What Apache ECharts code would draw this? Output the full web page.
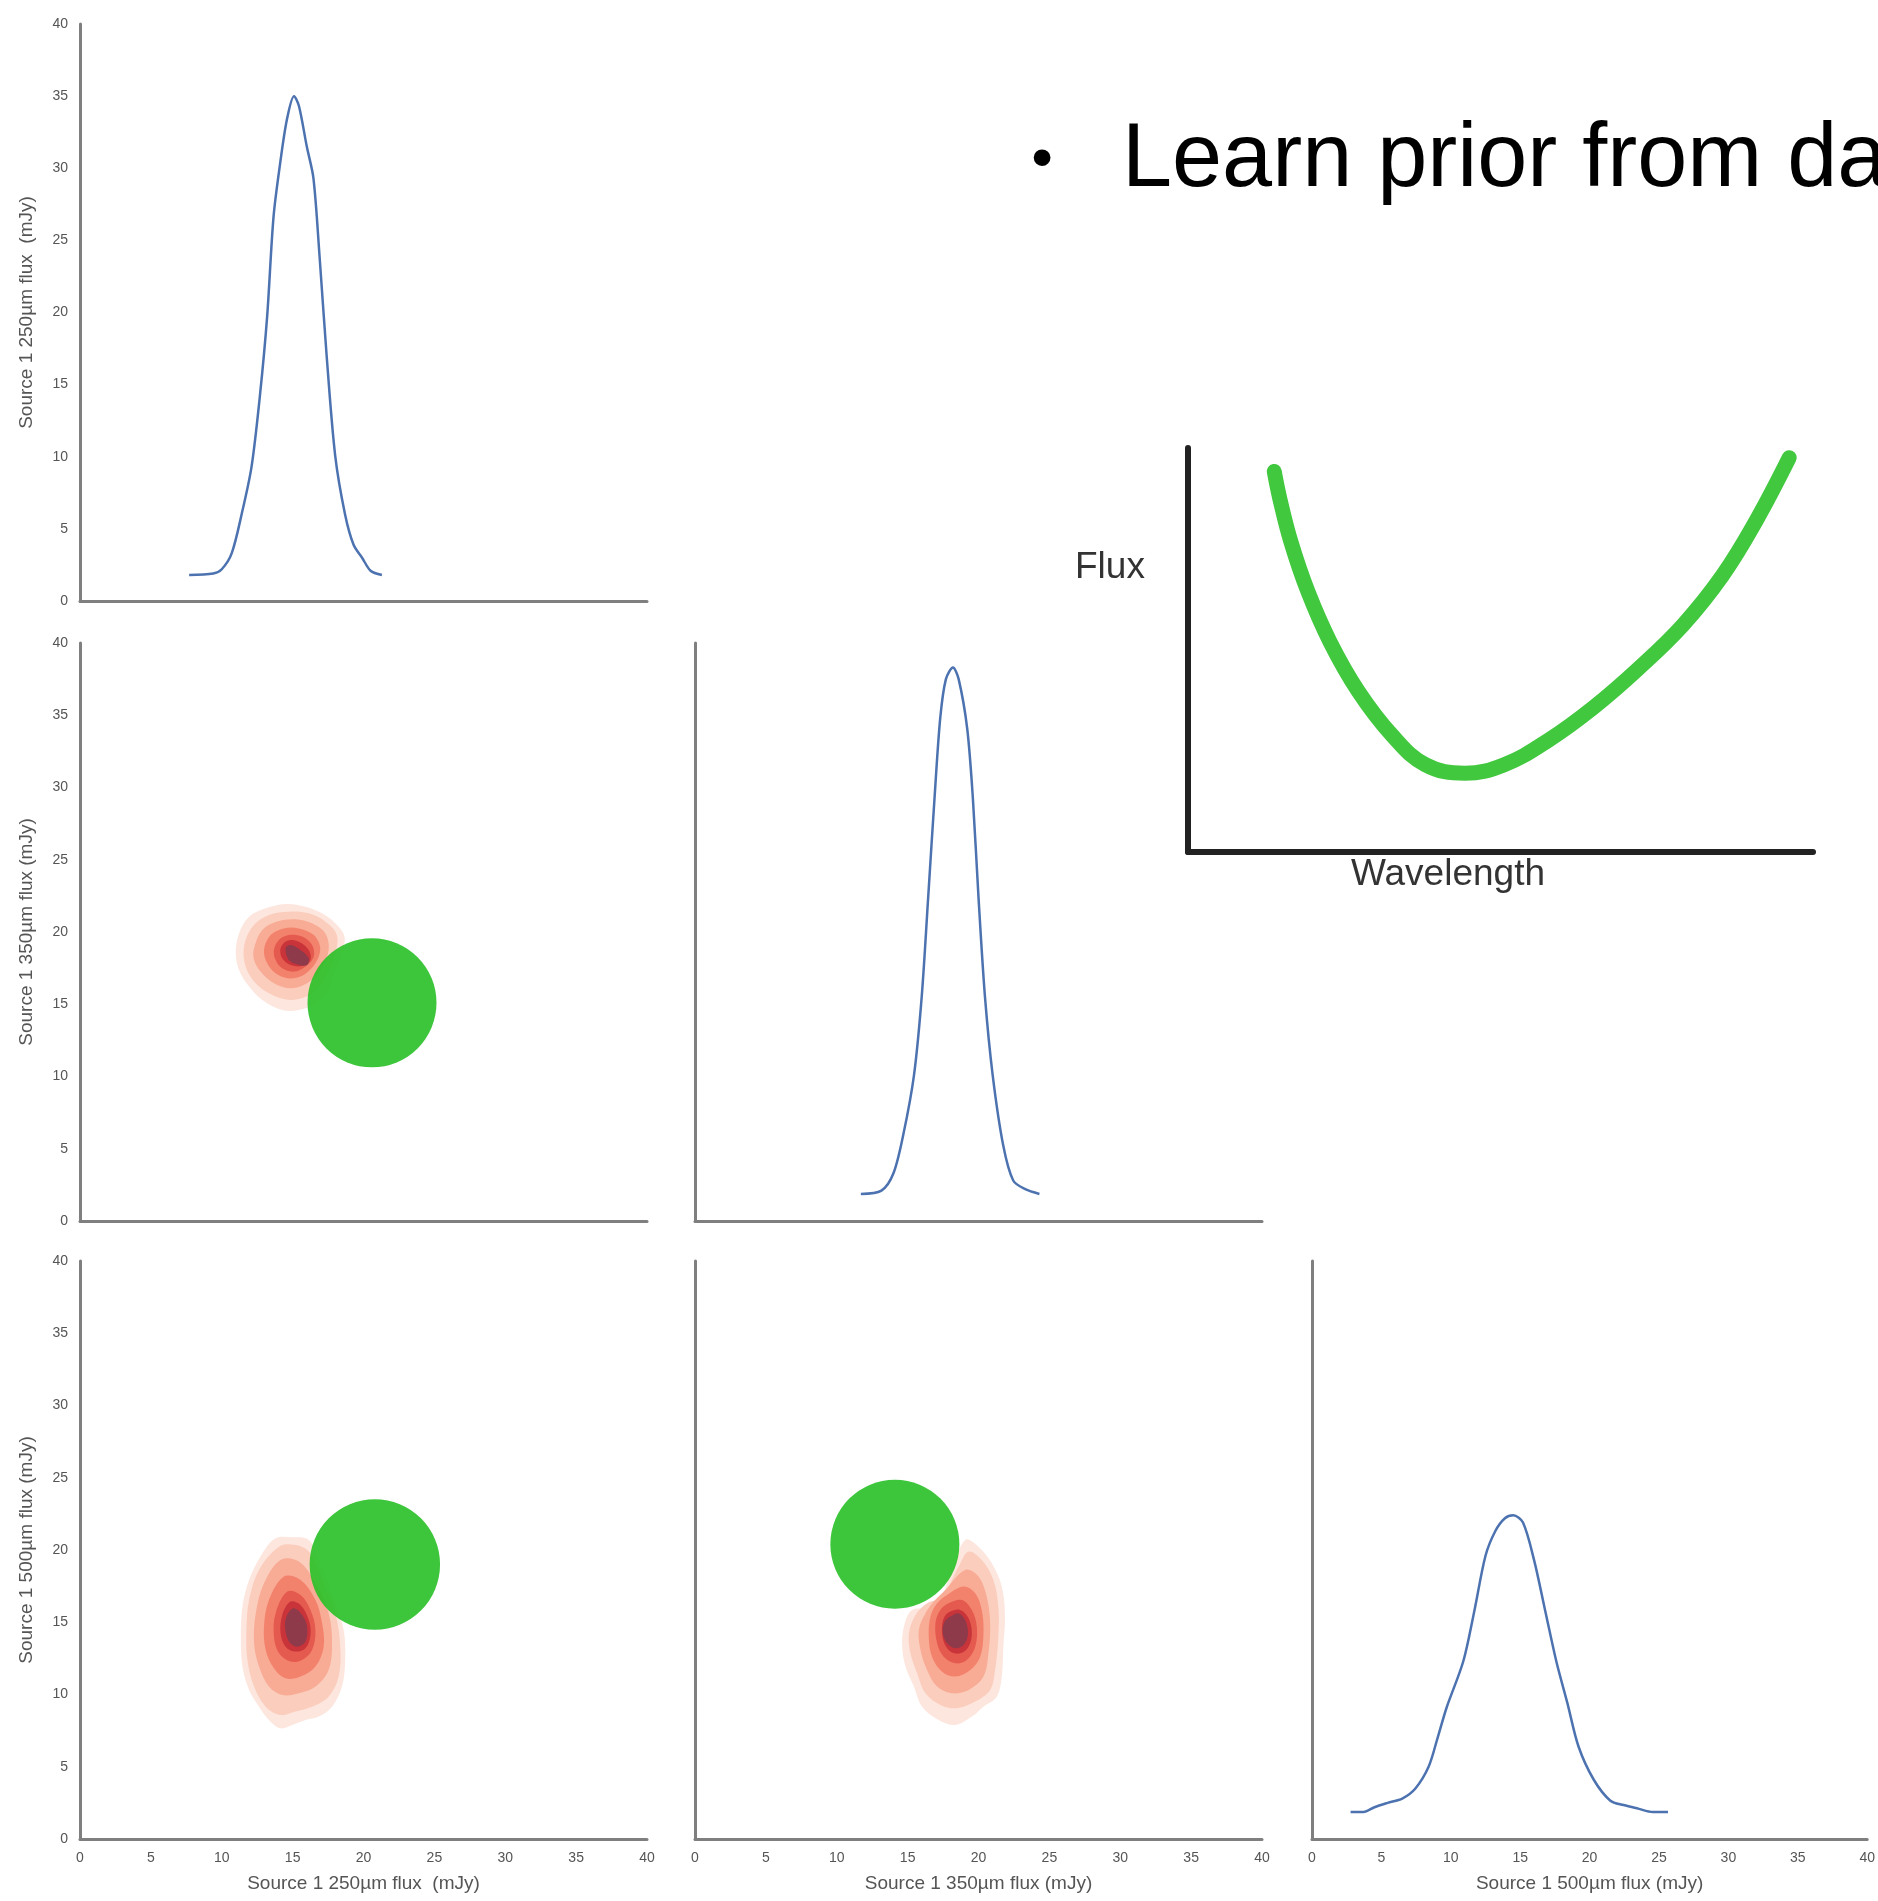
<!DOCTYPE html>
<html style="height: 100%">
<head>
<meta charset="utf-8">
</head>
<body style="height: 100%; margin: 0; background: #fff">
<div id="container" style="width: 1878px; height: 1901px;"></div>
<script type="text/javascript" src="https://cdn.jsdelivr.net/npm/echarts@6/dist/echarts.min.js"></script>
<script type="text/javascript">
var dom = document.getElementById("container");
var myChart = echarts.init(dom);

// axis range shared by every panel
var fluxMin = 0, fluxMax = 40, fluxStep = 5;

var name250x = 'Source 1 250µm flux  (mJy)';
var name250y = 'Source 1 250µm flux  (mJy)';
var name350 = 'Source 1 350µm flux (mJy)';
var name500 = 'Source 1 500µm flux (mJy)';

// 1D marginals (diagonal)
var kde250 = [[7.7,1.8],[9.4,1.9],[10.0,2.2],[10.7,3.3],[11.4,6.0],[12.1,9.3],[12.7,14.3],[13.2,19.7],[13.65,26.6],[14.1,30.2],[14.6,33.4],[15.1,35.0],[15.45,34.3],[16.0,31.5],[16.47,29.3],[16.9,23.9],[17.4,17.0],[18.0,10.1],[18.7,6.0],[19.3,3.9],[19.9,3.0],[20.5,2.1],[21.3,1.8]];
var kde350 = [[11.7,1.87],[13.15,2.1],[14.0,3.3],[14.7,6.0],[15.45,10.1],[16.0,15.6],[16.45,22.4],[16.9,29.3],[17.3,34.8],[17.7,37.5],[18.2,38.3],[18.6,37.5],[19.2,34.1],[19.6,29.3],[20.0,22.4],[20.45,15.6],[21.0,10.1],[21.75,5.2],[22.45,2.8],[23.3,2.2],[24.3,1.87]];
var kde500 = [[2.78,1.87],[3.71,1.87],[4.5,2.2],[5.45,2.5],[6.5,2.8],[7.45,3.5],[8.4,5.0],[9.05,7.0],[9.7,9.1],[10.9,12.3],[11.7,15.8],[12.5,19.6],[13.2,21.3],[13.9,22.2],[14.5,22.4],[15.2,21.9],[16.0,19.3],[16.8,15.8],[17.6,12.3],[18.4,9.4],[19.2,6.4],[20.3,4.1],[21.5,2.65],[22.45,2.35],[23.5,2.1],[24.55,1.87],[25.65,1.87]];

// 2D density contours, outermost first
var levelColors = ['#fde6de','#fbcdbd','#f8ab95','#f3826d','#e55a4e','#c8343a','#8e3a4a'];

var dens250_350 = [
  [[11.22,19.91],[11.93,21.06],[13.10,21.64],[14.50,21.94],[15.90,21.75],[17.07,21.29],[18.01,20.60],[18.66,19.68],[18.47,18.52],[18.01,17.37],[17.54,15.99],[16.60,15.06],[15.43,14.60],[14.26,14.60],[12.86,15.29],[11.93,16.22],[11.22,17.37],[10.99,18.52]],
  [[11.57,18.99],[12.16,20.37],[13.33,21.18],[14.73,21.41],[16.14,21.29],[17.30,20.72],[18.12,19.79],[18.01,18.52],[17.30,16.91],[16.37,15.76],[14.97,15.30],[13.56,15.64],[12.39,16.45],[11.69,17.60]],
  [[12.28,18.87],[12.86,20.14],[13.91,20.72],[15.20,20.88],[16.37,20.60],[17.30,19.91],[17.54,18.76],[16.95,17.37],[16.02,16.45],[14.85,16.10],[13.68,16.45],[12.74,17.26],[12.28,18.06]],
  [[12.98,18.76],[13.45,19.79],[14.38,20.25],[15.43,20.25],[16.49,19.79],[16.95,18.87],[16.60,17.83],[15.78,17.03],[14.73,16.79],[13.80,17.14],[13.21,17.83]],
  [[13.68,18.76],[14.03,19.45],[14.73,19.79],[15.67,19.68],[16.37,19.10],[16.49,18.29],[15.90,17.60],[15.08,17.26],[14.26,17.49],[13.80,18.06]],
  [[14.15,18.87],[14.62,19.40],[15.43,19.33],[16.14,18.76],[16.25,18.06],[15.67,17.65],[14.85,17.72],[14.26,18.18]],
  [[14.50,18.87],[14.85,19.10],[15.55,18.76],[16.14,18.18],[16.02,17.72],[15.43,17.72],[14.73,18.06]]
];

var dens250_500 = [
  [[13.80,20.81],[14.97,20.88],[16.14,20.70],[16.84,19.31],[18.01,16.31],[18.60,14.47],[18.71,12.39],[18.48,10.55],[17.78,9.16],[16.84,8.47],[15.91,8.24],[14.97,7.89],[14.15,7.66],[13.33,8.24],[12.63,9.16],[11.93,10.31],[11.46,11.93],[11.35,14.01],[11.46,16.08],[11.93,17.93],[12.87,19.77]],
  [[14.04,20.23],[15.20,20.35],[16.14,19.89],[17.08,17.93],[18.01,15.62],[18.36,13.31],[18.25,11.24],[17.54,9.85],[16.37,9.16],[15.20,8.82],[14.15,8.58],[13.10,9.16],[12.28,10.55],[11.81,12.39],[11.74,14.47],[11.93,16.54],[12.63,18.62]],
  [[14.15,19.31],[15.44,19.20],[16.61,17.70],[17.54,15.62],[17.78,13.54],[17.54,11.70],[16.61,10.55],[15.44,10.08],[14.27,9.97],[13.33,10.55],[12.63,11.93],[12.28,13.54],[12.40,15.62],[12.98,17.70]],
  [[14.39,18.16],[15.56,17.93],[16.61,16.54],[17.08,14.93],[17.19,13.31],[16.61,11.93],[15.56,11.24],[14.50,11.12],[13.68,11.81],[13.10,13.08],[12.98,14.70],[13.33,16.54]],
  [[14.62,17.12],[15.56,16.89],[16.26,15.85],[16.61,14.47],[16.37,13.08],[15.67,12.39],[14.85,12.28],[14.04,12.85],[13.68,14.01],[13.80,15.62]],
  [[14.85,16.43],[15.56,16.20],[16.14,15.16],[16.26,14.12],[15.91,13.20],[15.20,12.97],[14.50,13.31],[14.15,14.24],[14.27,15.51]],
  [[15.09,15.97],[15.67,15.51],[16.02,14.70],[15.91,13.66],[15.32,13.31],[14.74,13.66],[14.46,14.70],[14.62,15.51]]
];

var dens350_500 = [
  [[16.96,16.08],[18.13,18.62],[19.06,20.70],[20.00,20.23],[20.94,19.08],[21.64,17.47],[21.87,15.39],[21.75,13.31],[21.64,11.24],[21.29,9.85],[20.35,9.16],[19.53,8.47],[18.36,7.89],[17.19,8.24],[16.02,9.16],[15.44,10.55],[14.85,11.93],[14.62,13.31],[14.74,14.70],[15.32,15.85]],
  [[17.43,16.77],[18.60,18.85],[19.30,19.89],[20.23,19.31],[21.05,17.93],[21.40,16.08],[21.40,14.01],[21.17,11.70],[20.82,10.31],[19.77,9.51],[18.48,9.05],[17.31,9.28],[16.26,10.08],[15.67,11.47],[15.20,12.85],[15.09,14.24],[15.56,15.51],[16.37,16.31]],
  [[17.66,17.24],[19.06,18.62],[20.00,18.16],[20.58,16.77],[20.82,14.93],[20.70,12.85],[20.35,11.24],[19.30,10.31],[18.13,10.08],[17.08,10.55],[16.37,11.70],[15.91,13.08],[15.79,14.47],[16.26,15.62],[16.84,16.43]],
  [[17.78,16.89],[18.95,17.47],[19.77,17.00],[20.23,15.85],[20.35,14.24],[20.12,12.62],[19.42,11.70],[18.36,11.24],[17.43,11.58],[16.72,12.62],[16.49,14.01],[16.61,15.39],[17.08,16.31]],
  [[17.89,16.31],[18.83,16.54],[19.53,15.85],[19.88,14.70],[19.77,13.31],[19.18,12.39],[18.36,12.16],[17.54,12.62],[17.08,13.54],[16.96,14.93],[17.31,15.85]],
  [[18.01,15.74],[18.71,15.85],[19.30,15.27],[19.53,14.24],[19.30,13.31],[18.71,12.85],[18.01,12.97],[17.54,13.66],[17.43,14.70],[17.61,15.39]],
  [[18.01,15.39],[18.60,15.62],[19.11,15.04],[19.25,14.12],[18.95,13.43],[18.36,13.20],[17.78,13.54],[17.47,14.35],[17.61,15.04]]
];

// prior discs: [x, y, radius]
var prior250_350 = [20.6, 15.1, 4.55];
var prior250_500 = [20.8, 19.0, 4.6];
var prior350_500 = [14.1, 20.4, 4.55];

// sketch of an SED prior (arbitrary units 0-100)
var sedCurve = [[13.8,94.2],[14.7,87.4],[16.5,76.6],[19.2,64.4],[22.7,52.1],[27.2,39.9],[32.6,29.0],[38.0,21.6],[44.3,19.5],[50.6,21.6],[57.7,27.7],[64.9,35.8],[72.0,45.3],[79.2,56.2],[85.5,68.4],[90.9,82.0],[96.2,97.6]];

var labelStyle = {color: '#555', fontSize: 14, margin: 12, fontFamily: 'Liberation Sans'};
var nameStyle = {color: '#555', fontSize: 19, fontFamily: 'Liberation Sans'};

function fluxAxis(grid, showLabel, name, gap) {
    return {
        type: 'value', gridIndex: grid,
        min: fluxMin, max: fluxMax, interval: fluxStep,
        axisLine: {show: true, onZero: false, lineStyle: {color: '#7f7f7f', width: 3}},
        axisTick: {show: false},
        splitLine: {show: false},
        axisLabel: Object.assign({show: showLabel}, labelStyle),
        name: name || '', nameLocation: 'middle', nameGap: gap || 0,
        nameTextStyle: nameStyle
    };
}

function sketchAxis(grid) {
    return {
        type: 'value', gridIndex: grid, min: 0, max: 100,
        axisLine: {show: true, onZero: false, lineStyle: {color: '#222', width: 6, cap: 'round'}},
        axisTick: {show: false}, axisLabel: {show: false}, splitLine: {show: false}
    };
}

function kdeLine(idx, data) {
    return {
        type: 'line', xAxisIndex: idx, yAxisIndex: idx, data: data,
        showSymbol: false, smooth: 0.3, silent: true,
        lineStyle: {color: '#4c72b0', width: 2.5}
    };
}

function contours(idx, levels) {
    return {
        type: 'custom', xAxisIndex: idx, yAxisIndex: idx, silent: true,
        data: levels.map(function (pts, i) { return [pts[0][0], pts[0][1], i]; }),
        encode: {x: 0, y: 1},
        renderItem: function (params, api) {
            var i = api.value(2);
            var pts = levels[i].map(function (p) { return api.coord(p); });
            return {type: 'polygon', shape: {points: pts, smooth: 0.35}, style: {fill: levelColors[i]}};
        }
    };
}

function priorDisc(idx, disc) {
    return {
        type: 'custom', xAxisIndex: idx, yAxisIndex: idx, silent: true,
        data: [disc], encode: {x: 0, y: 1},
        renderItem: function (params, api) {
            var c = api.coord([api.value(0), api.value(1)]);
            var s = api.size([api.value(2), api.value(2)]);
            return {type: 'circle', shape: {cx: c[0], cy: c[1], r: s[0]}, style: {fill: 'rgba(40,192,38,0.9)'}};
        }
    };
}

var option = {
    backgroundColor: '#fff',
    animation: false,
    grid: [
        {left: 80, top: 24, width: 567, height: 577},
        {left: 80, top: 643, width: 567, height: 578},
        {left: 695, top: 643, width: 567, height: 578},
        {left: 80, top: 1261, width: 567, height: 578},
        {left: 695, top: 1261, width: 567, height: 578},
        {left: 1312, top: 1261, width: 568, height: 578},
        {left: 1188, top: 448, width: 625, height: 404}
    ],
    xAxis: [
        fluxAxis(0, false),
        fluxAxis(1, false),
        fluxAxis(2, false),
        fluxAxis(3, true, name250x, 35),
        fluxAxis(4, true, name350, 35),
        fluxAxis(5, true, name500, 35),
        sketchAxis(6)
    ],
    yAxis: [
        fluxAxis(0, true, name250y, 44),
        fluxAxis(1, true, name350, 44),
        fluxAxis(2, false),
        fluxAxis(3, true, name500, 44),
        fluxAxis(4, false),
        fluxAxis(5, false),
        sketchAxis(6)
    ],
    graphic: [
        {type: 'text', style: {x: 1042, y: 161, text: '•', font: '62px "Liberation Sans"', fill: '#000', textAlign: 'center', textVerticalAlign: 'middle'}},
        {type: 'text', style: {x: 1122, y: 161, text: 'Learn prior from data', font: '90px "Liberation Sans"', fill: '#000', textAlign: 'left', textVerticalAlign: 'middle'}},
        {type: 'text', style: {x: 1075, y: 568, text: 'Flux', font: '37px "Liberation Sans"', fill: '#333', textAlign: 'left', textVerticalAlign: 'middle'}},
        {type: 'text', style: {x: 1448, y: 875, text: 'Wavelength', font: '37px "Liberation Sans"', fill: '#333', textAlign: 'center', textVerticalAlign: 'middle'}}
    ],
    series: [
        kdeLine(0, kde250),
        kdeLine(2, kde350),
        kdeLine(5, kde500),
        contours(1, dens250_350),
        contours(3, dens250_500),
        contours(4, dens350_500),
        priorDisc(1, prior250_350),
        priorDisc(3, prior250_500),
        priorDisc(4, prior350_500),
        {
            type: 'line', xAxisIndex: 6, yAxisIndex: 6, data: sedCurve,
            showSymbol: false, smooth: 0.4, silent: true,
            lineStyle: {color: '#41c83e', width: 15, cap: 'round', join: 'round'}
        }
    ]
};

myChart.setOption(option);
</script>
</body>
</html>
